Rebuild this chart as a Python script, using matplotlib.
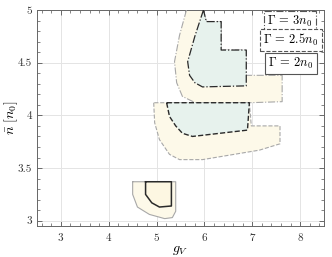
import numpy as np
import matplotlib
matplotlib.use("Agg")
import matplotlib.pyplot as plt
from matplotlib.ticker import MultipleLocator

plt.rcParams["font.family"] = "serif"
plt.rcParams["font.serif"] = ["cmr10", "DejaVu Serif"]
plt.rcParams["mathtext.fontset"] = "cm"
plt.rcParams["axes.formatter.use_mathtext"] = True

# ---------------------------------------------------------------------------
# region boundaries (g_V, n_bar / n0)
# ---------------------------------------------------------------------------
# Gamma = 3 n0 (dash-dot)
g3_outer_x = [5.625, 5.48, 5.375, 5.42, 5.54, 5.90, 6.31, 6.94, 7.625, 7.625,
              6.875, 6.875, 6.35, 6.35, 6.04, 5.98]
g3_outer_y = [5.0, 4.76, 4.51, 4.31, 4.18, 4.10, 4.11, 4.12, 4.13, 4.38,
              4.38, 4.62, 4.62, 4.89, 4.89, 5.0]
g3_inner_x = [5.98, 5.80, 5.65, 5.69, 5.80, 5.96, 6.40, 6.875, 6.875, 6.35,
              6.35, 6.04, 5.98]
g3_inner_y = [5.0, 4.75, 4.51, 4.38, 4.31, 4.27, 4.275, 4.28, 4.62, 4.62,
              4.89, 4.89, 5.0]

# Gamma = 2.5 n0 (dashed)
g25_outer_x = [4.94, 4.96, 5.06, 5.27, 5.48, 5.96, 7.15, 7.58, 7.58, 6.98,
               6.94, 4.94]
g25_outer_y = [4.12, 3.93, 3.77, 3.63, 3.58, 3.58, 3.67, 3.73, 3.90, 3.90,
               4.12, 4.12]
g25_inner_x = [5.21, 5.27, 5.40, 5.54, 5.75, 6.90, 6.94, 5.21]
g25_inner_y = [4.12, 3.99, 3.90, 3.83, 3.80, 3.86, 4.12, 4.12]

# Gamma = 2 n0 (solid)
g2_outer_x = [4.5, 4.5, 4.60, 4.85, 5.17, 5.33, 5.40, 5.40, 4.5]
g2_outer_y = [3.37, 3.25, 3.13, 3.06, 3.02, 3.03, 3.09, 3.37, 3.37]
g2_inner_x = [4.77, 4.77, 4.90, 5.06, 5.31, 5.31, 4.77]
g2_inner_y = [3.37, 3.25, 3.17, 3.13, 3.14, 3.37, 3.37]

legend_labels = [r"$\Gamma\,=\,3n_0$", r"$\Gamma\,=\,2.5n_0$", r"$\Gamma\,=\,2n_0$"]
legend_styles = ["-.", "--", "-"]

outer_fill = "#fdf9e9"
inner_fill = "#e7f2ed"
outer_line = "#a8a8a8"
inner_line = "#2a2a2a"

fig = plt.figure(figsize=(3.32, 2.57), dpi=100)
ax = fig.add_axes([0.1114, 0.1206, 0.8645, 0.8405])

# outer regions first, then inner ones on top
for xs, ys, ls in [(g25_outer_x, g25_outer_y, "--"),
                   (g3_outer_x, g3_outer_y, "-."),
                   (g2_outer_x, g2_outer_y, "-")]:
    ax.fill(xs, ys, color=outer_fill, lw=0, zorder=2)
    ax.plot(xs, ys, color=outer_line, lw=0.8, ls=ls, zorder=3)

ax.fill(g3_inner_x, g3_inner_y, color=inner_fill, lw=0, zorder=4)
ax.plot(g3_inner_x, g3_inner_y, color=inner_line, lw=0.9, ls="-.", zorder=5)
ax.fill(g25_inner_x, g25_inner_y, color=inner_fill, lw=0, zorder=4)
ax.plot(g25_inner_x, g25_inner_y, color=inner_line, lw=1.0, ls="--", zorder=5)
ax.fill(g2_inner_x, g2_inner_y, color="#fdf7e2", lw=0, zorder=4)
ax.plot(g2_inner_x, g2_inner_y, color=inner_line, lw=1.1, ls="-", zorder=5)

ax.set_xlim(2.5, 8.5)
ax.set_ylim(2.95, 5.0)
ax.xaxis.set_major_locator(MultipleLocator(1))
ax.xaxis.set_minor_locator(MultipleLocator(0.2))
ax.yaxis.set_minor_locator(MultipleLocator(0.1))
ax.set_yticks([3, 3.5, 4, 4.5, 5])
ax.set_yticklabels(["3", "3.5", "4", "4.5", "5"])
ax.grid(True, which="major", color="#e4e4e4", lw=0.7, zorder=0)
ax.tick_params(which="both", direction="in", top=True, right=True,
               colors="#555555", labelsize=8, labelcolor="#333333")
ax.tick_params(which="major", length=3.5, width=0.6)
ax.tick_params(which="minor", length=2, width=0.5)
for sp in ax.spines.values():
    sp.set_color("#666666")
    sp.set_linewidth(0.7)

ax.set_xlabel(r"$g_V$", fontsize=10, labelpad=1)
ax.set_ylabel(r"$\bar{n}\ [n_0]$", fontsize=10)
ax.yaxis.set_label_coords(-0.06, 0.5)

legend_pos = [(0.882, 0.948), (0.885, 0.860), (0.885, 0.752)]
for (px, py), lab, ls in zip(legend_pos, legend_labels, legend_styles):
    ax.text(px, py, lab, transform=ax.transAxes, ha="center", va="center",
            fontsize=9, zorder=10,
            bbox=dict(boxstyle="square,pad=0.25", fc="white",
                      ec="#555555", lw=0.8, ls=ls))

fig.savefig("out.png", dpi=100)
